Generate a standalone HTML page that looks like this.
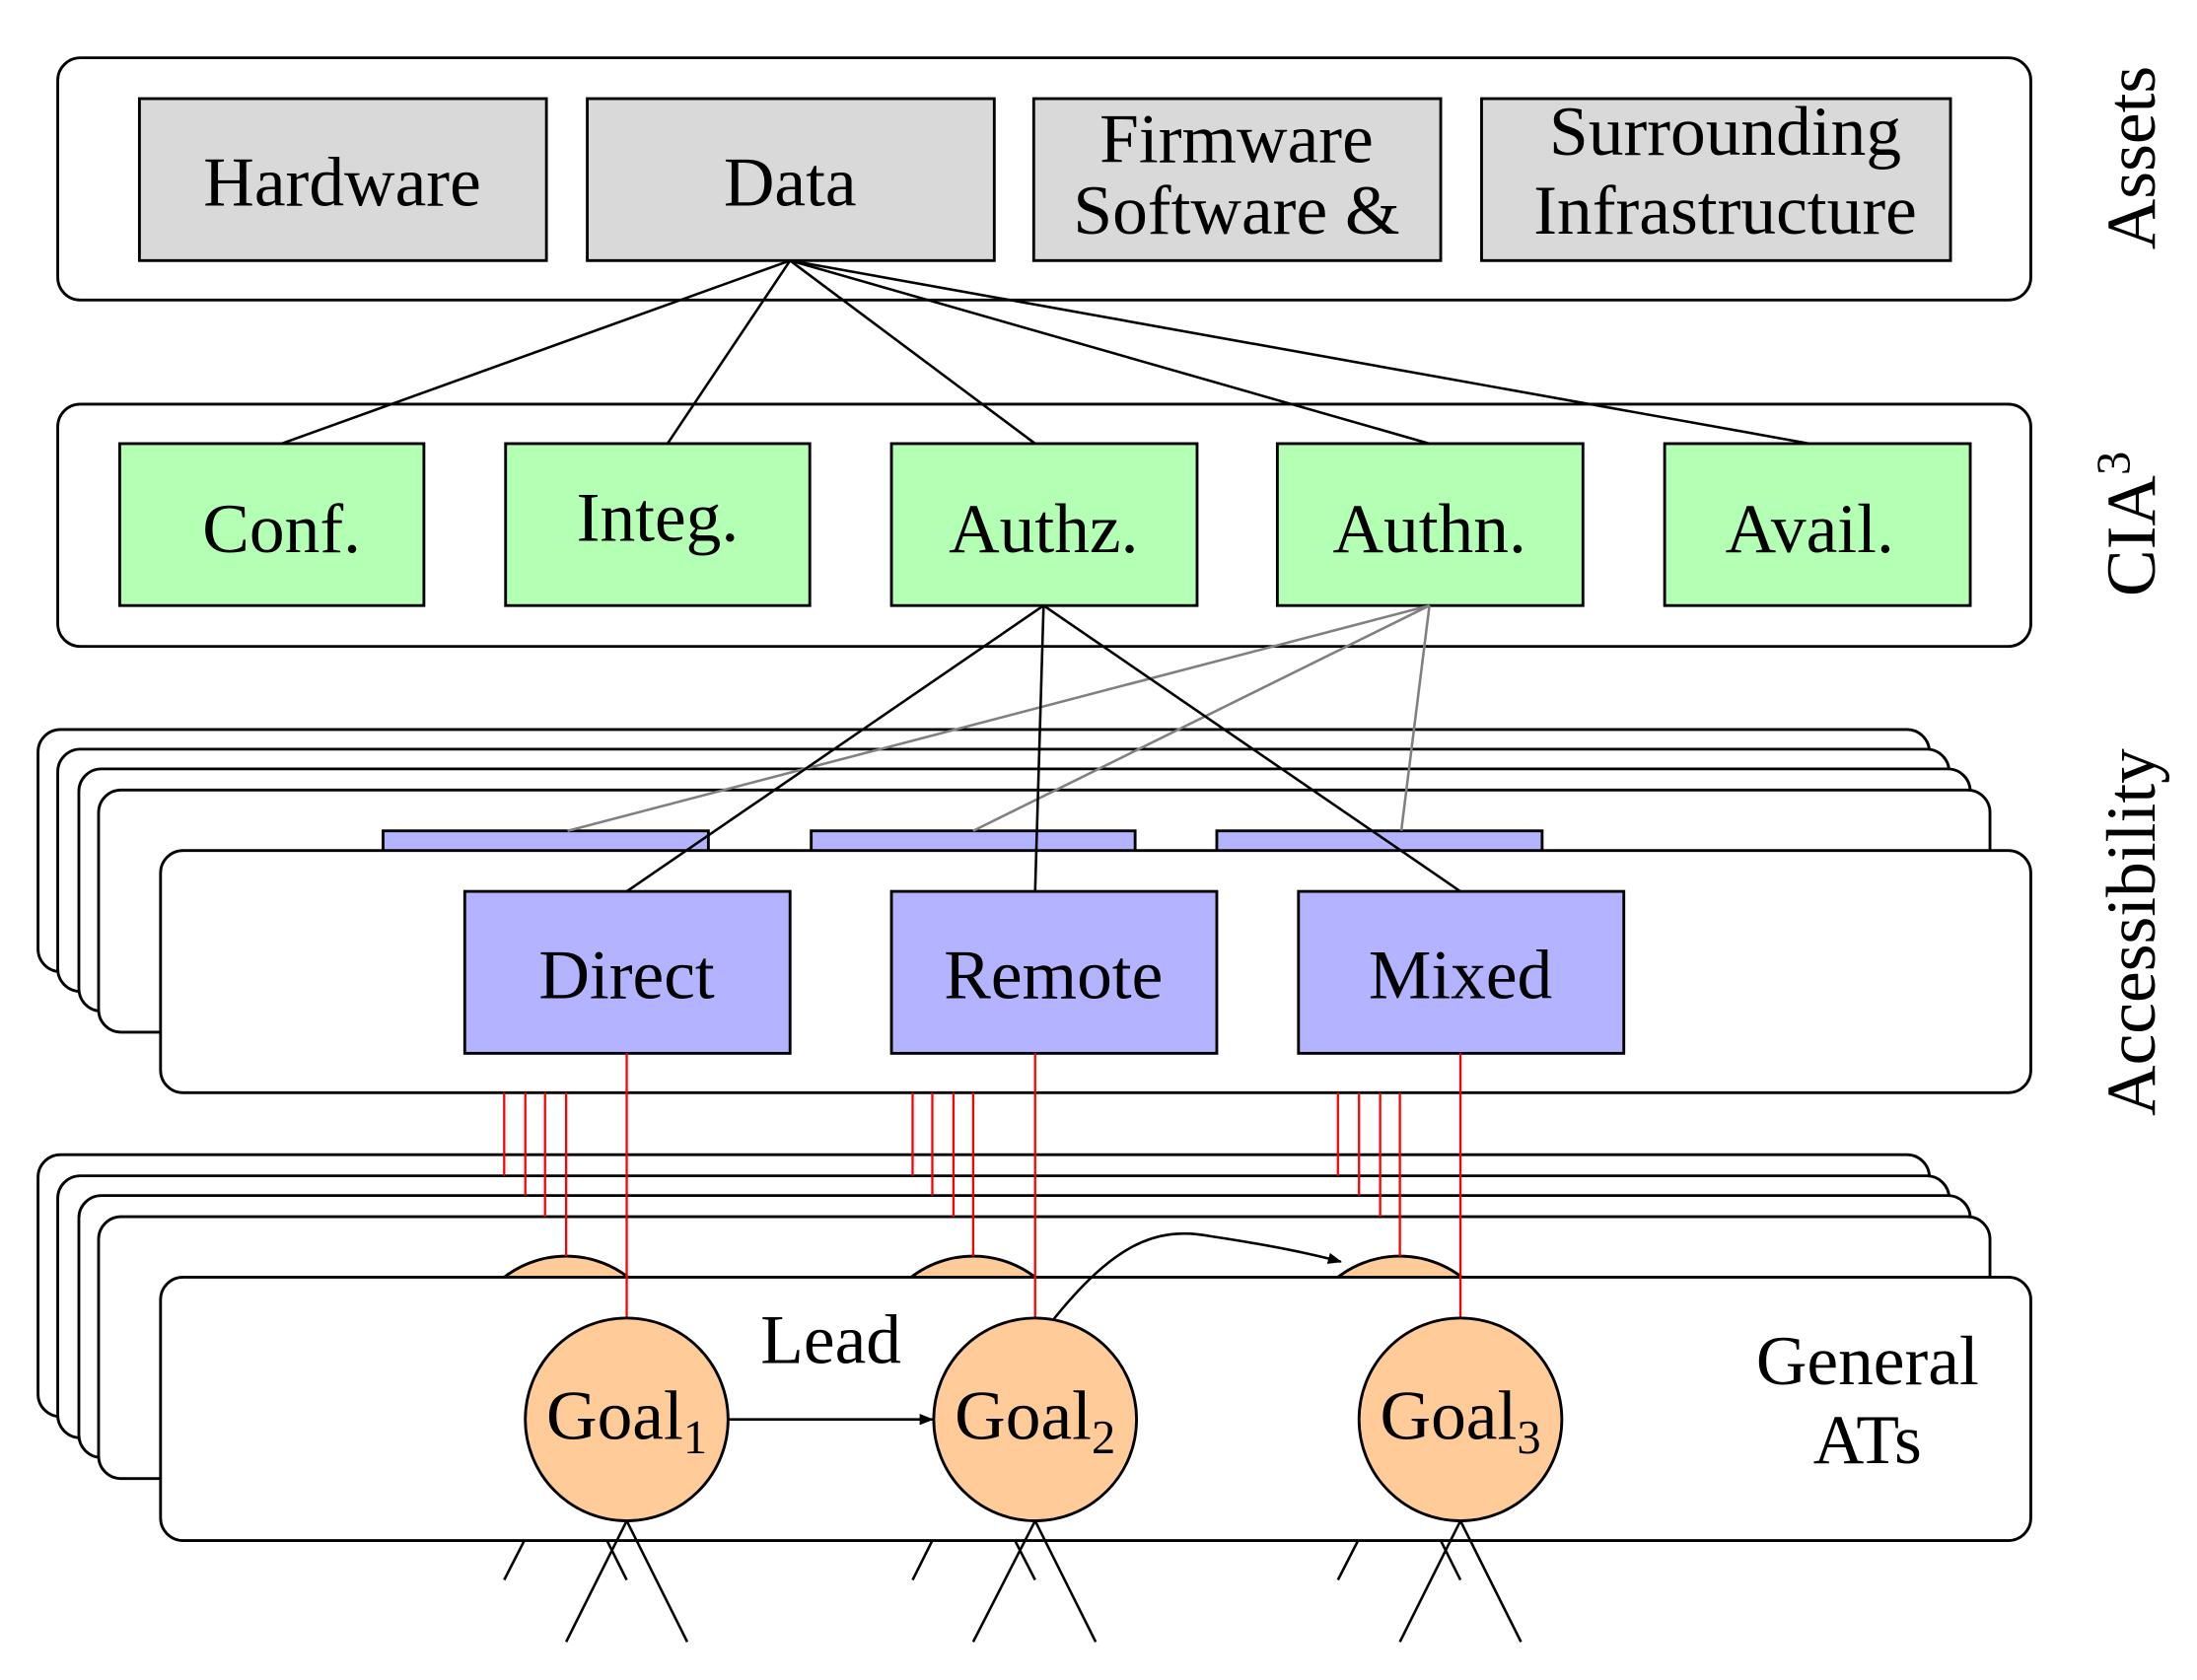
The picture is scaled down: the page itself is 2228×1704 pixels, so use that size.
<!DOCTYPE html>
<html><head><meta charset="utf-8"><style>
html,body{margin:0;padding:0;background:#fff;}
svg{display:block;}
text{font-family:"Liberation Serif","DejaVu Serif",serif;fill:#000;}
</style></head><body>
<svg width="2228" height="1704" viewBox="0 0 1560 1193" xmlns="http://www.w3.org/2000/svg">
<defs><marker id="ah" markerWidth="10" markerHeight="8" refX="9" refY="4" orient="auto" markerUnits="userSpaceOnUse"><path d="M0,0 L10,4 L0,8 z" fill="#000"/></marker></defs>
<g stroke="#000" stroke-width="2" fill="none">
<rect x="41" y="41" width="1401" height="172" rx="16" fill="#fff"/>
<g fill="#d9d9d9">
<rect x="99" y="70" width="289" height="115"/>
<rect x="417" y="70" width="289" height="115"/>
<rect x="734" y="70" width="289" height="115"/>
<rect x="1052" y="70" width="333" height="115"/>
</g>
<rect x="41" y="287" width="1401" height="172" rx="16" fill="#fff"/>
<g fill="#b3ffb3">
<rect x="85" y="315" width="216" height="115"/>
<rect x="359" y="315" width="216" height="115"/>
<rect x="633" y="315" width="217" height="115"/>
<rect x="907" y="315" width="217" height="115"/>
<rect x="1182" y="315" width="217" height="115"/>
</g>
<g stroke-width="1.8">
<line x1="561" y1="185" x2="200" y2="315"/>
<line x1="561" y1="185" x2="474" y2="315"/>
<line x1="561" y1="185" x2="735" y2="315"/>
<line x1="561" y1="185" x2="1015" y2="315"/>
<line x1="561" y1="185" x2="1285" y2="315"/>
</g>
<rect x="27" y="518" width="1343" height="172" rx="16" fill="#fff"/>
<rect x="41" y="532" width="1343" height="172" rx="16" fill="#fff"/>
<rect x="56" y="546" width="1343" height="172" rx="16" fill="#fff"/>
<rect x="70" y="561" width="1343" height="172" rx="16" fill="#fff"/>
<g fill="#b3b3ff">
<rect x="272" y="590" width="231" height="30"/>
<rect x="576" y="590" width="230" height="30"/>
<rect x="864" y="590" width="231" height="30"/>
</g>
<rect x="114" y="604" width="1328" height="172" rx="16" fill="#fff"/>
<g fill="#b3b3ff">
<rect x="330" y="633" width="231" height="115"/>
<rect x="633" y="633" width="231" height="115"/>
<rect x="922" y="633" width="231" height="115"/>
</g>
<g stroke="#808080" stroke-width="1.8">
<line x1="1015" y1="430" x2="403" y2="590"/>
<line x1="1015" y1="430" x2="691" y2="590"/>
<line x1="1015" y1="430" x2="995" y2="590"/>
</g>
<g stroke-width="1.8">
<line x1="741" y1="430" x2="445" y2="633"/>
<line x1="741" y1="430" x2="735" y2="633"/>
<line x1="741" y1="430" x2="1037" y2="633"/>
</g>
<rect x="27" y="820" width="1343" height="186" rx="16" fill="#fff"/>
<rect x="41" y="835" width="1343" height="186" rx="16" fill="#fff"/>
<rect x="56" y="849" width="1343" height="186" rx="16" fill="#fff"/>
<rect x="70" y="864" width="1343" height="186" rx="16" fill="#fff"/>
<g fill="#ffcc99">
<circle cx="402" cy="964" r="72"/>
<circle cx="691" cy="964" r="72"/>
<circle cx="994" cy="964" r="72"/>
</g>
<g stroke-width="1.8">
<line x1="402" y1="1036" x2="358" y2="1122"/><line x1="402" y1="1036" x2="445" y2="1122"/>
<line x1="691" y1="1036" x2="648" y2="1122"/><line x1="691" y1="1036" x2="735" y2="1122"/>
<line x1="994" y1="1036" x2="950" y2="1122"/><line x1="994" y1="1036" x2="1037" y2="1122"/>
</g>
<rect x="114" y="907" width="1328" height="187" rx="16" fill="#fff"/>
<g stroke="#f00" stroke-width="1.6">
<line x1="358" y1="776" x2="358" y2="835"/><line x1="373" y1="776" x2="373" y2="849"/><line x1="387" y1="776" x2="387" y2="864"/><line x1="402" y1="776" x2="402" y2="892"/>
<line x1="445" y1="748" x2="445" y2="936"/>
<line x1="648" y1="776" x2="648" y2="835"/><line x1="662" y1="776" x2="662" y2="849"/><line x1="677" y1="776" x2="677" y2="864"/><line x1="691" y1="776" x2="691" y2="892"/>
<line x1="735" y1="748" x2="735" y2="936"/>
<line x1="950" y1="776" x2="950" y2="835"/><line x1="965" y1="776" x2="965" y2="849"/><line x1="980" y1="776" x2="980" y2="864"/><line x1="994" y1="776" x2="994" y2="892"/>
<line x1="1037" y1="748" x2="1037" y2="936"/>
</g>
<g fill="#ffcc99">
<circle cx="445" cy="1008" r="72"/>
<circle cx="735" cy="1008" r="72"/>
<circle cx="1037" cy="1008" r="72"/>
</g>
<g stroke-width="1.8">
<line x1="445" y1="1080" x2="402" y2="1166"/><line x1="445" y1="1080" x2="488" y2="1166"/>
<line x1="735" y1="1080" x2="691" y2="1166"/><line x1="735" y1="1080" x2="778" y2="1166"/>
<line x1="1037" y1="1080" x2="994" y2="1166"/><line x1="1037" y1="1080" x2="1080" y2="1166"/>
<line x1="517" y1="1008" x2="662" y2="1008" marker-end="url(#ah)"/>
<path d="M748,937 C790,885 820,870 860,878 C900,884 930,890 952,896" marker-end="url(#ah)"/>
</g>
</g>
<g font-size="50" text-anchor="middle">
<text x="243" y="146">Hardware</text>
<text x="561" y="146">Data</text>
<text x="878" y="115">Firmware</text>
<text x="878" y="166">Software &amp;</text>
<text x="1225" y="110">Surrounding</text>
<text x="1225" y="166">Infrastructure</text>
<text x="200" y="392">Conf.</text>
<text x="467" y="384">Integ.</text>
<text x="741" y="392">Authz.</text>
<text x="1015" y="392">Authn.</text>
<text x="1285" y="392">Avail.</text>
<text x="445" y="709">Direct</text>
<text x="748" y="709">Remote</text>
<text x="1037" y="709">Mixed</text>
<text x="590" y="968">Lead</text>
<text x="1326" y="983">General</text>
<text x="1326" y="1039">ATs</text>
<text x="445" y="1022">Goal<tspan font-size="34" dy="10">1</tspan></text>
<text x="735" y="1022">Goal<tspan font-size="34" dy="10">2</tspan></text>
<text x="1037" y="1022">Goal<tspan font-size="34" dy="10">3</tspan></text>
<text transform="translate(1530,112) rotate(-90)">Assets</text>
<text transform="translate(1530,372) rotate(-90)">CIA<tspan font-size="34" dy="-18">3</tspan></text>
<text transform="translate(1530,662) rotate(-90)">Accessibility</text>
</g>
</svg>
</body></html>
